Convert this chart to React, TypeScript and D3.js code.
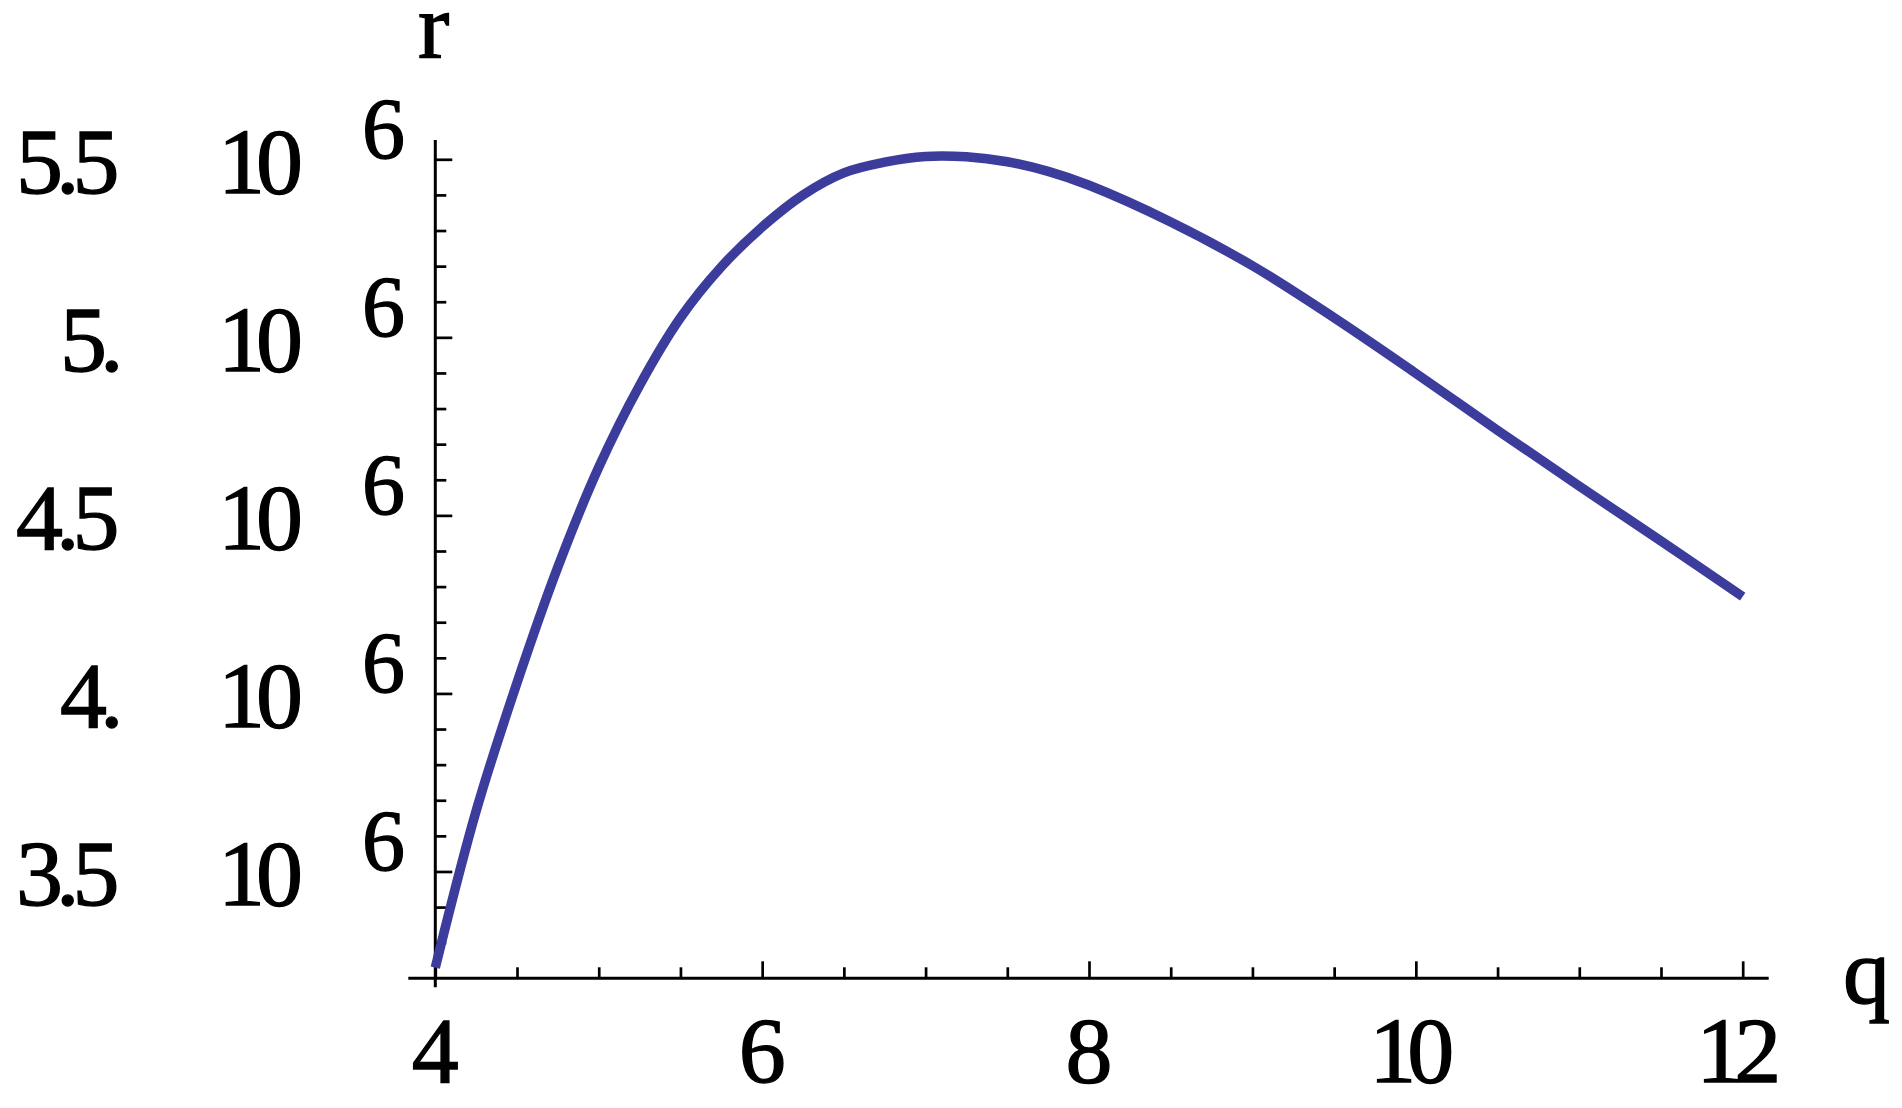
import React, { useEffect, useRef } from "react";
import * as d3 from "d3";

// q on the horizontal axis, r (in units of 10^6) on the vertical axis
const qValues = [4, 4.25, 4.5, 4.75, 5, 5.25, 5.5, 5.75, 6, 6.25, 6.5, 6.75, 7, 7.25, 7.5, 7.75, 8, 8.5, 9, 9.5, 10, 10.5, 11, 11.5, 12];
const rValues = [3.23, 3.67, 4.03, 4.355, 4.635, 4.865, 5.055, 5.198, 5.31, 5.4, 5.462, 5.492, 5.508, 5.507, 5.493, 5.466, 5.427, 5.324, 5.201, 5.055, 4.899, 4.739, 4.582, 4.428, 4.272];

const xMajor = [4, 6, 8, 10, 12];
const xTickLabels = ["4", "6", "8", "10", "12"];
const yMajor = [3.5, 4, 4.5, 5, 5.5];
const yMantissa = ["3.5", "4.", "4.5", "5.", "5.5"];
const yBase = "10";
const yExp = "6";
const xLabel = "q";
const yLabel = "r";

export default function App() {
  const ref = useRef<SVGSVGElement>(null);

  useEffect(() => {
    const width = 1902,
      height = 1108;
    const font = "'Liberation Serif', 'Times New Roman', serif";
    const fs = 94;

    const svg = d3.select(ref.current);
    svg.selectAll("*").remove();
    svg.attr("width", width).attr("height", height);

    const x = d3.scaleLinear().domain([4, 12]).range([435.3, 1742.7]);
    const y = d3.scaleLinear().domain([3.2, 5.5]).range([978.3, 159.3]);

    const xMinor = d3.range(9, 24).map((d) => d / 2).filter((d) => !xMajor.includes(d));
    const yMinor = d3
      .range(33, 55)
      .map((d) => d / 10)
      .filter((d) => !yMajor.some((m) => Math.abs(m - d) < 1e-9));

    const x0 = x(4);
    const y0 = y(3.2);

    // ticks
    const tickStyle = (g) => {
      g.select(".domain").remove();
      g.selectAll("line").attr("stroke", "#000").attr("stroke-width", 2.7);
      g.selectAll("text").remove();
    };

    svg.append("g").attr("transform", `translate(${x0},0)`)
      .call(d3.axisRight(y).tickValues(yMinor).tickSize(11).tickFormat(() => ""))
      .call(tickStyle);
    svg.append("g").attr("transform", `translate(${x0},0)`)
      .call(d3.axisRight(y).tickValues(yMajor).tickSize(17).tickFormat(() => ""))
      .call(tickStyle);
    svg.append("g").attr("transform", `translate(0,${y0})`)
      .call(d3.axisTop(x).tickValues(xMinor).tickSize(11).tickFormat(() => ""))
      .call(tickStyle);
    svg.append("g").attr("transform", `translate(0,${y0})`)
      .call(d3.axisTop(x).tickValues(xMajor).tickSize(17).tickFormat(() => ""))
      .call(tickStyle);

    // axis lines
    svg.append("line")
      .attr("x1", x0).attr("x2", x0)
      .attr("y1", 140).attr("y2", y0 + 9)
      .attr("stroke", "#000").attr("stroke-width", 3);
    svg.append("line")
      .attr("x1", x0 - 27).attr("x2", x(12) + 26)
      .attr("y1", y0).attr("y2", y0)
      .attr("stroke", "#000").attr("stroke-width", 3);

    const label = (sel, size) =>
      sel
        .attr("font-family", font)
        .attr("font-size", size)
        .attr("fill", "#000")
        .attr("stroke", "#000")
        .attr("stroke-width", 1.3);

    // x tick labels
    const xls = -9;
    svg.append("g")
      .selectAll("text")
      .data(xMajor)
      .join("text")
      .attr("x", (d, i) => x(d) + xls / 2 - (xTickLabels[i].length - 1) * 4)
      .attr("y", 1082)
      .attr("text-anchor", "middle")
      .attr("letter-spacing", xls)
      .call(label, fs)
      .text((d, i) => xTickLabels[i]);

    // y tick labels: mantissa, 10, exponent
    const yl = svg.append("g").selectAll("g").data(yMajor).join("g");
    yl.append("text")
      .attr("x", (d, i) => 16 + (3 - yMantissa[i].length) * 44)
      .attr("y", (d) => y(d) + 34)
      .attr("letter-spacing", -7)
      .call(label, fs)
      .text((d, i) => yMantissa[i]);
    yl.append("text")
      .attr("x", 218)
      .attr("y", (d) => y(d) + 34)
      .attr("letter-spacing", -9)
      .call(label, fs)
      .text(yBase);
    yl.append("text")
      .attr("x", 362)
      .attr("y", (d) => y(d) - 1)
      .call(label, 86)
      .text(yExp);

    // axis labels
    svg.append("text")
      .attr("x", 418).attr("y", 57)
      .call(label, fs)
      .text(yLabel);
    svg.append("text")
      .attr("x", 1843).attr("y", 1003)
      .call(label, fs)
      .text(xLabel);

    // curve
    const pts = qValues.map((q, i) => [q, rValues[i]]);
    const line = d3
      .line()
      .x((d) => x(d[0]))
      .y((d) => y(d[1]))
      .curve(d3.curveCatmullRom.alpha(0.5));

    svg.append("path")
      .datum(pts)
      .attr("fill", "none")
      .attr("stroke", "#3c3c9c")
      .attr("stroke-width", 9.5)
      .attr("stroke-linejoin", "round")
      .attr("d", line);
  }, []);

  return (
    <svg
      ref={ref}
      width={1902}
      height={1108}
      style={{ position: "absolute", left: 0, top: 0, background: "#fff" }}
    />
  );
}
